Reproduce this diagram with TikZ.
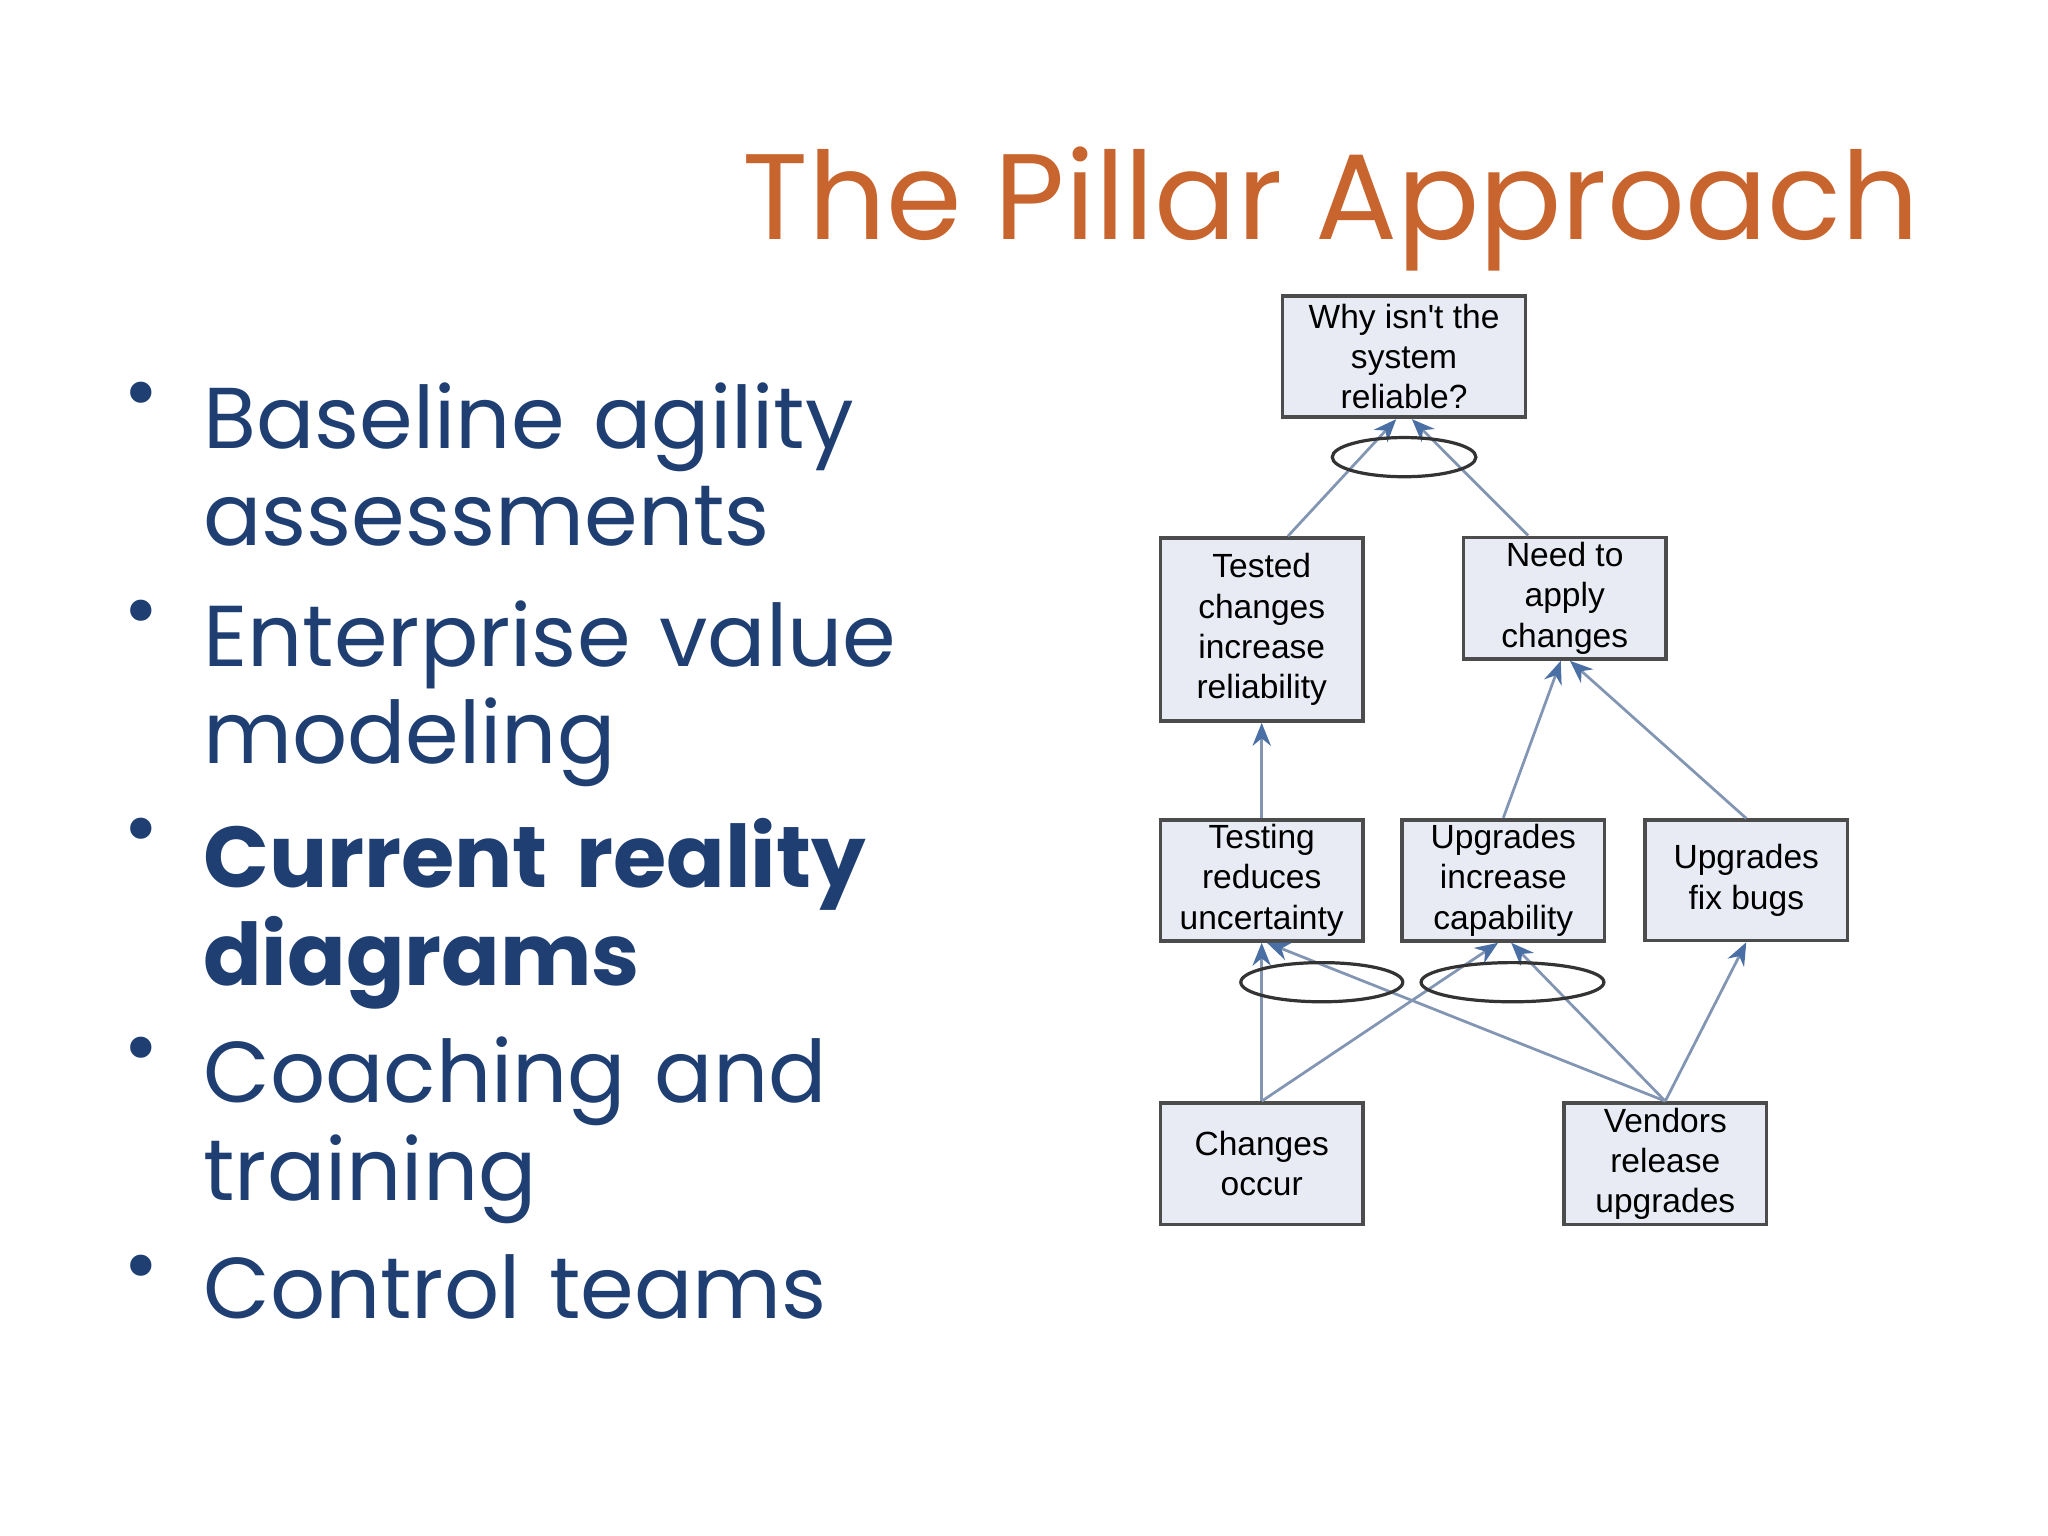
\documentclass[tikz,border=0pt]{standalone}
\usepackage{fontspec}
\setmainfont{Poppins}
\newfontfamily\boxfont{Liberation Sans}
\usetikzlibrary{arrows.meta}
\definecolor{ttl}{HTML}{C8642E}
\definecolor{blu}{HTML}{1F3F73}
\definecolor{bfill}{HTML}{E9EBF4}
\definecolor{ln}{HTML}{8296B4}
\definecolor{tip}{HTML}{4A6FA5}
\begin{document}
\begin{tikzpicture}[x=0.01cm,y=-0.01cm,
  bx/.style={draw=black!70,fill=bfill,line width=0.8pt,minimum width=1.55cm,align=center,inner sep=1pt,font=\boxfont\fontsize{7.3}{8.8}\selectfont},
  con/.style={draw=ln,line width=0.6pt,-{Stealth[length=5pt,width=4pt,color=tip]}},
  ell/.style={draw=black!80,line width=0.7pt},
  bul/.style={anchor=north west,align=left,text width=7cm,font=\fontsize{18.8}{21.3}\selectfont,text=blu,inner sep=0}]
\fill[white] (0,0) rectangle (1568,1176);
\useasboundingbox (0,0) rectangle (1568,1176);
\node[anchor=base east,text=ttl,font=\fontsize{26.5}{30}\selectfont,inner sep=0] (title) at (1470,183) {The Pillar Approach};
\foreach \y/\t/\n in {292/{Baseline agility\\assessments}/b1,459/{Enterprise value\\modeling}/b2,626/{\textbf{Current reality}\\\textbf{diagrams}}/b3,793/{Coaching and\\training}/b4,960/{Control teams}/b5}{
  \node[bul] (\n) at (155,\y) {\t};
  \node[anchor=north,text=blu,font=\fontsize{18.8}{21.3}\selectfont,inner sep=0] (\n d) at (108,\y) {•};
}
\node[bx,minimum width=1.86cm,minimum height=0.93cm] (A) at (1075,273) {Why isn't the\\system\\reliable?};
\node[bx,minimum height=1.40cm] (B) at (966,482) {Tested\\changes\\increase\\reliability};
\node[bx,minimum height=0.93cm] (C) at (1198,458) {Need to\\apply\\changes};
\node[bx,minimum height=0.92cm] (D) at (966,674) {Testing\\reduces\\uncertainty};
\node[bx,minimum height=0.92cm] (E) at (1151,674) {Upgrades\\increase\\capability};
\node[bx,minimum height=0.92cm] (F) at (1337,674) {Upgrades\\fix bugs};
\node[bx,minimum height=0.93cm] (G) at (966,891) {Changes\\occur};
\node[bx,minimum height=0.93cm] (H) at (1275,891) {Vendors\\release\\upgrades};
\draw[con] ([xshift=0.2cm]B.north) -- ([xshift=-0.06cm]A.south);
\draw[con] ([xshift=-0.28cm]C.north) -- ([xshift=0.06cm]A.south);
\draw[con] (D.north) -- (B.south);
\draw[con] (E.north) -- ([xshift=-0.03cm]C.south);
\draw[con] (F.north) -- ([xshift=0.04cm]C.south);
\draw[con] (G.north) -- (D.south);
\draw[con] (G.north) -- ([xshift=-0.04cm]E.south);
\draw[con] (H.north) -- ([xshift=0.04cm]D.south);
\draw[con] (H.north) -- ([xshift=0.06cm]E.south);
\draw[con] (H.north) -- (F.south);
\draw[ell] (1075,350) ellipse [x radius=55,y radius=15];
\draw[ell] (1012,752) ellipse [x radius=62,y radius=15];
\draw[ell] (1158,752) ellipse [x radius=70,y radius=15];
\end{tikzpicture}
\end{document}
